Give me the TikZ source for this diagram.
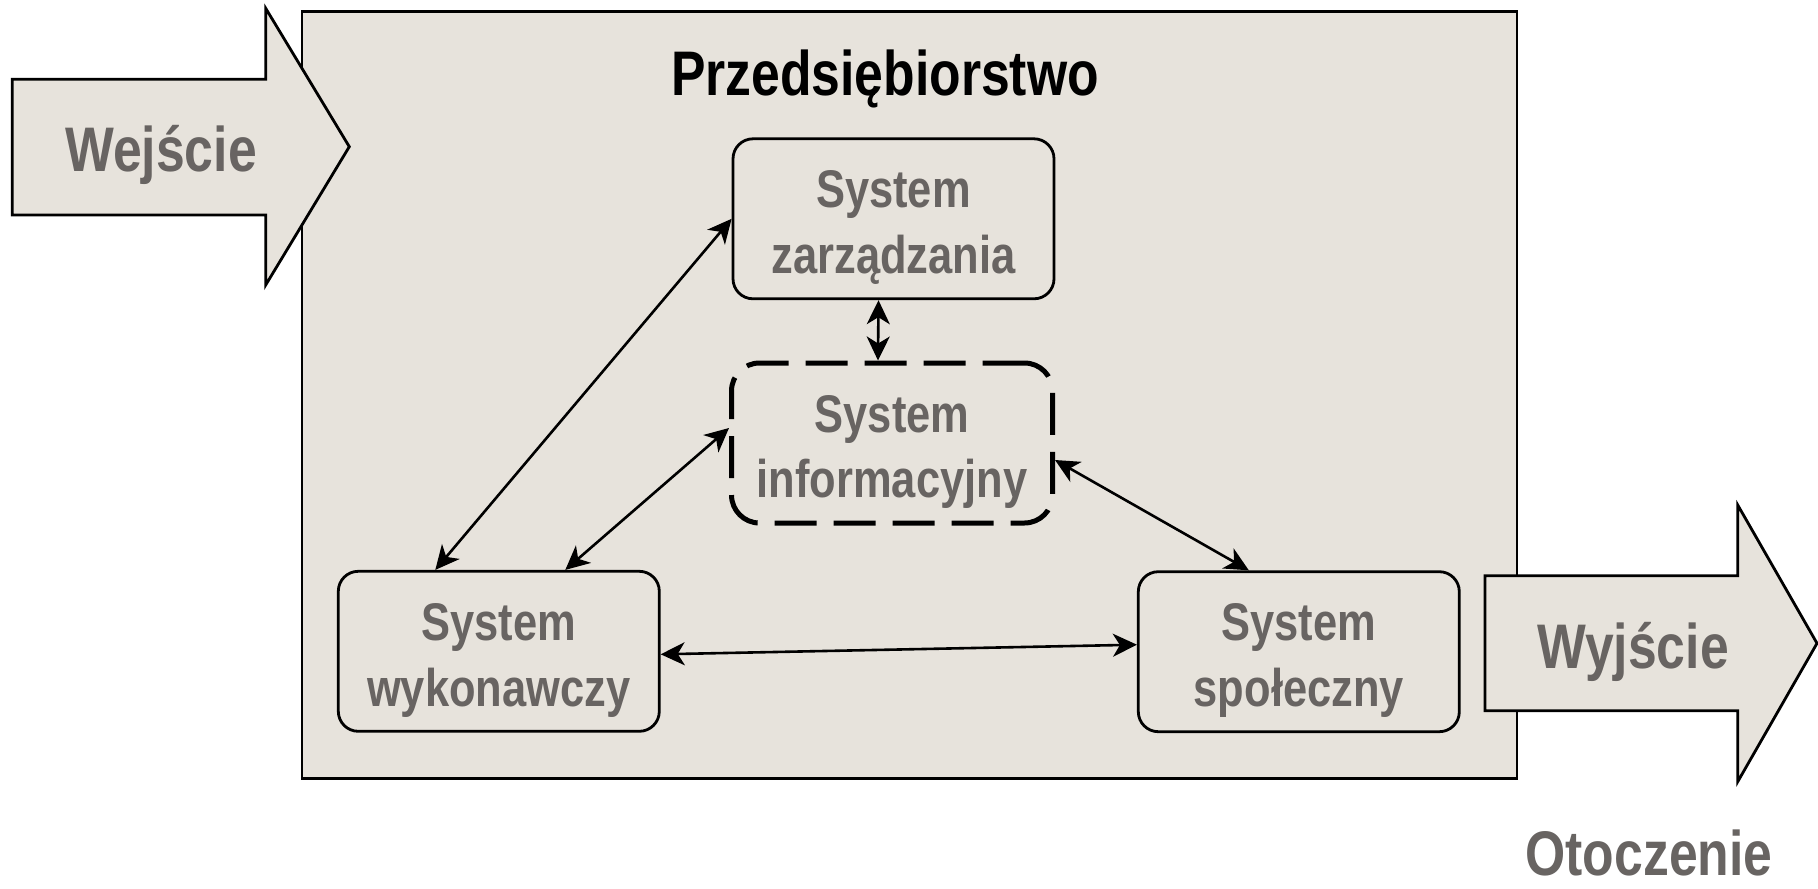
\documentclass[tikz,border=0pt]{standalone}
\usepackage{fontspec}
\setmainfont{Liberation Sans}[FakeStretch=0.82]
\usetikzlibrary{arrows.meta,calc}
\definecolor{bg}{HTML}{E7E3DC}
\definecolor{txt}{HTML}{686462}
\begin{document}
\begin{tikzpicture}[x=0.5pt,y=-0.5pt,
  sysbox/.style={draw=black, line width=1.4pt, rounded corners=10pt, fill=bg,
    minimum width=160.5pt, minimum height=80pt, inner sep=0pt},
  systext/.style={align=center, inner sep=0pt,
    font=\fontsize{26.5}{32.85}\selectfont\bfseries, text=txt},
  infobox/.style={sysbox, line width=2.5pt, rounded corners=14pt, dash pattern=on 21pt off 8.5pt},
  bigarrow/.style={draw=black, line width=1.4pt, fill=bg, line join=miter},
  biglabel/.style={font=\fontsize{31.5}{37}\selectfont\bfseries, text=txt, inner sep=0pt, anchor=base},
  conn/.style={line width=1.3pt, {Stealth[length=12pt,width=11.5pt,inset=3.5pt]}-{Stealth[length=12pt,width=11.5pt,inset=3.5pt]}}]
\useasboundingbox (0,0) rectangle (1818,888);
\fill[white] (0,0) rectangle (1818,888);
% enterprise
\node (ent) [draw=black, line width=1.4pt, fill=bg, minimum width=607.5pt, minimum height=383.4pt, inner sep=0pt] at (909.5,395.1) {};
% input / output arrows
\draw[bigarrow] (12.3,79.3) -- (265.7,79.3) -- (265.7,8.3) -- (349.3,146.7) -- (265.7,285) -- (265.7,215) -- (12.3,215) -- cycle;
\draw[bigarrow] (1485,575.7) -- (1737.7,575.7) -- (1737.7,505) -- (1817,643.3) -- (1737.7,781.7) -- (1737.7,710.7) -- (1485,710.7) -- cycle;
\node (wej) [biglabel] at (161,171) {Wejście};
\node (wyj) [biglabel] at (1633,668) {Wyjście};
\node (oto) [biglabel] at (1649,875) {Otoczenie};
\node (title) [biglabel, text=black] at (885,96) {Przedsiębiorstwo};
% systems
\node (zarz) [sysbox] at (893.5,218.8) {};
\node (inf) [infobox] at (892,443) {};
\node (wyk) [sysbox] at (498.8,651.3) {};
\node (spol) [sysbox] at (1298.8,651.7) {};
\node (zarzT) [systext] at ($(zarz.center)+(0,9)$) {System\\zarządzania};
\node (infT) [systext] at ($(inf.center)+(0,9)$) {System\\informacyjny};
\node (wykT) [systext] at ($(wyk.center)+(0,9)$) {System\\wykonawczy};
\node (spolT) [systext] at ($(spol.center)+(0,9)$) {System\\społeczny};
% connectors
\draw[conn] ($(wyk.north)+(-63.5,0)$) -- (zarz.west);
\draw[conn] ($(wyk.north)+(66.5,0)$) -- ($(inf.west)+(0,-15)$);
\draw[conn] ($(zarz.south)+(-15,0)$) -- ($(inf.north)+(-14,0)$);
\draw[conn] ($(inf.east)+(0,17)$) -- ($(spol.north)+(-50,0)$);
\draw[conn] ($(wyk.east)+(0,3)$) -- ($(spol.west)+(0,-7)$);
\end{tikzpicture}
\end{document}
